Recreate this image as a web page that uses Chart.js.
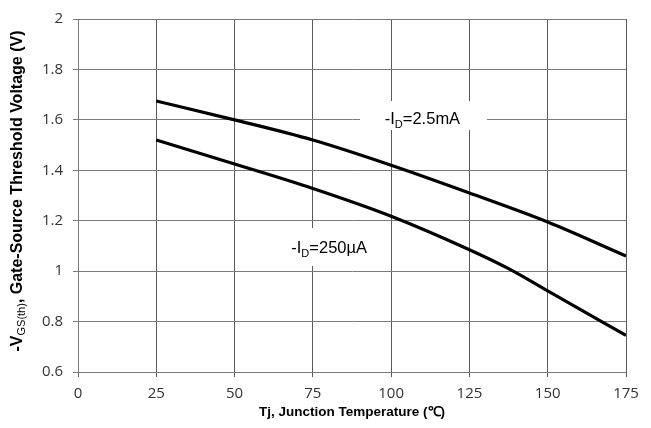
<!DOCTYPE html>
<html>
<head>
<meta charset="utf-8">
<script src="https://cdn.jsdelivr.net/npm/chart.js@4"></script>
<style>
  html, body { margin: 0; padding: 0; background: #fff; }
  #wrap { width: 651px; height: 428px; }
</style>
</head>
<body>
<div id="wrap"><canvas id="vthChart" width="651" height="428"></canvas></div>
<script>
// Datos
const tempsHigh = [25, 50, 75, 100, 125, 150, 175];
const vthHigh = [1.675, 1.60, 1.52, 1.42, 1.31, 1.195, 1.06];      // -ID = 2.5mA
const tempsLow = [25, 50, 75, 100, 125, 137.5, 150, 175];
const vthLow = [1.52, 1.425, 1.328, 1.218, 1.085, 1.01, 0.922, 0.745]; // -ID = 250µA
const xTicks = [0, 25, 50, 75, 100, 125, 150, 175];
const yTicks = [0.6, 0.8, 1, 1.2, 1.4, 1.6, 1.8, 2];

function toPoints(xs, ys) {
    return xs.map((x, i) => ({ x: x, y: ys[i] }));
}

// Etiquetas de las curvas, con fondo blanco sobre la rejilla
const curveLabels = {
    id: 'curveLabels',
    beforeDatasetsDraw(chart) {
        const ctx = chart.ctx;
        const xs = chart.scales.x, ys = chart.scales.y;
        const items = [
            { x: 110, y: 1.582, main: '2.5mA', box: [360, 101, 127, 29] },
            { x: 80.2, y: 1.073, main: '250µA', box: [278, 228, 102, 38] }
        ];
        const big = '16.5px "Liberation Sans", Arial';
        const small = '11px "Liberation Sans", Arial';
        items.forEach(it => {
            ctx.save();
            ctx.fillStyle = '#fff';
            ctx.fillRect(it.box[0], it.box[1], it.box[2], it.box[3]);
            const px = xs.getPixelForValue(it.x);
            const py = ys.getPixelForValue(it.y);
            ctx.fillStyle = '#000';
            ctx.textBaseline = 'alphabetic';
            ctx.textAlign = 'left';
            ctx.font = big;
            const w1 = ctx.measureText('-I').width;
            ctx.font = small;
            const w2 = ctx.measureText('D').width;
            ctx.font = big;
            const w3 = ctx.measureText('=' + it.main).width;
            let x0 = px - (w1 + w2 + w3) / 2;
            ctx.fillText('-I', x0, py);
            ctx.font = small;
            ctx.fillText('D', x0 + w1, py + 4);
            ctx.font = big;
            ctx.fillText('=' + it.main, x0 + w1 + w2, py);
            ctx.restore();
        });
    }
};

// Títulos de los ejes (con subíndice)
const axisTitles = {
    id: 'axisTitles',
    afterDraw(chart) {
        const ctx = chart.ctx;
        const area = chart.chartArea;
        ctx.save();
        ctx.fillStyle = '#000';
        ctx.textBaseline = 'middle';
        ctx.textAlign = 'center';
        ctx.font = 'bold 13.5px "Liberation Sans", Arial';
        ctx.fillText('Tj, Junction Temperature (\u2103)', (area.left + area.right) / 2, 412);

        // Eje Y rotado
        ctx.translate(18, 191);
        ctx.rotate(-Math.PI / 2);
        ctx.textAlign = 'left';
        const bold = 'bold 16px "Liberation Sans", Arial';
        const sub = '11px "Liberation Sans", Arial';
        ctx.font = bold;
        const a = ctx.measureText('-V').width;
        const c = ctx.measureText(', Gate-Source Threshold Voltage (V)').width;
        ctx.font = sub;
        const b = ctx.measureText('GS(th)').width;
        let x0 = -(a + b + c) / 2;
        ctx.font = bold;
        ctx.fillText('-V', x0, 0);
        ctx.font = sub;
        ctx.fillText('GS(th)', x0 + a, 4);
        ctx.font = bold;
        ctx.fillText(', Gate-Source Threshold Voltage (V)', x0 + a + b, 0);
        ctx.restore();
    }
};

const ctx = document.getElementById('vthChart').getContext('2d');
const vthChart = new Chart(ctx, {
    type: 'line',
    data: {
        datasets: [{
            label: '-ID=2.5mA',
            data: toPoints(tempsHigh, vthHigh),
            borderColor: '#000',
            borderWidth: 3.2,
            pointRadius: 0,
            cubicInterpolationMode: 'monotone'
        }, {
            label: '-ID=250µA',
            data: toPoints(tempsLow, vthLow),
            borderColor: '#000',
            borderWidth: 3.2,
            pointRadius: 0,
            cubicInterpolationMode: 'monotone'
        }]
    },
    options: {
        responsive: false,
        animation: false,
        layout: { padding: { top: 14, right: 25, left: 0, bottom: 0 } },
        plugins: {
            legend: { display: false },
            tooltip: { enabled: false }
        },
        scales: {
            x: {
                type: 'linear',
                min: 0,
                max: 175,
                afterFit(scale) { scale.height = 56; },
                afterBuildTicks(scale) { scale.ticks = xTicks.map(v => ({ value: v })); },
                grid: { color: '#5a5a5a', tickLength: 5, drawTicks: true },
                border: { color: '#7a7a7a' },
                ticks: {
                    padding: 8,
                    color: '#333',
                    font: { family: '"Open Sans", "Liberation Sans"', size: 15 }
                }
            },
            y: {
                min: 0.6,
                max: 2,
                afterFit(scale) { scale.width = 78; },
                afterBuildTicks(scale) { scale.ticks = yTicks.map(v => ({ value: v })); },
                grid: { color: '#7a7a7a', tickLength: 5 },
                border: { color: '#7a7a7a' },
                ticks: {
                    padding: 10,
                    color: '#333',
                    font: { family: '"Open Sans", "Liberation Sans"', size: 15 },
                    callback: v => String(Math.round(v * 10) / 10)
                }
            }
        }
    },
    plugins: [curveLabels, axisTitles]
});
</script>
</body>
</html>
